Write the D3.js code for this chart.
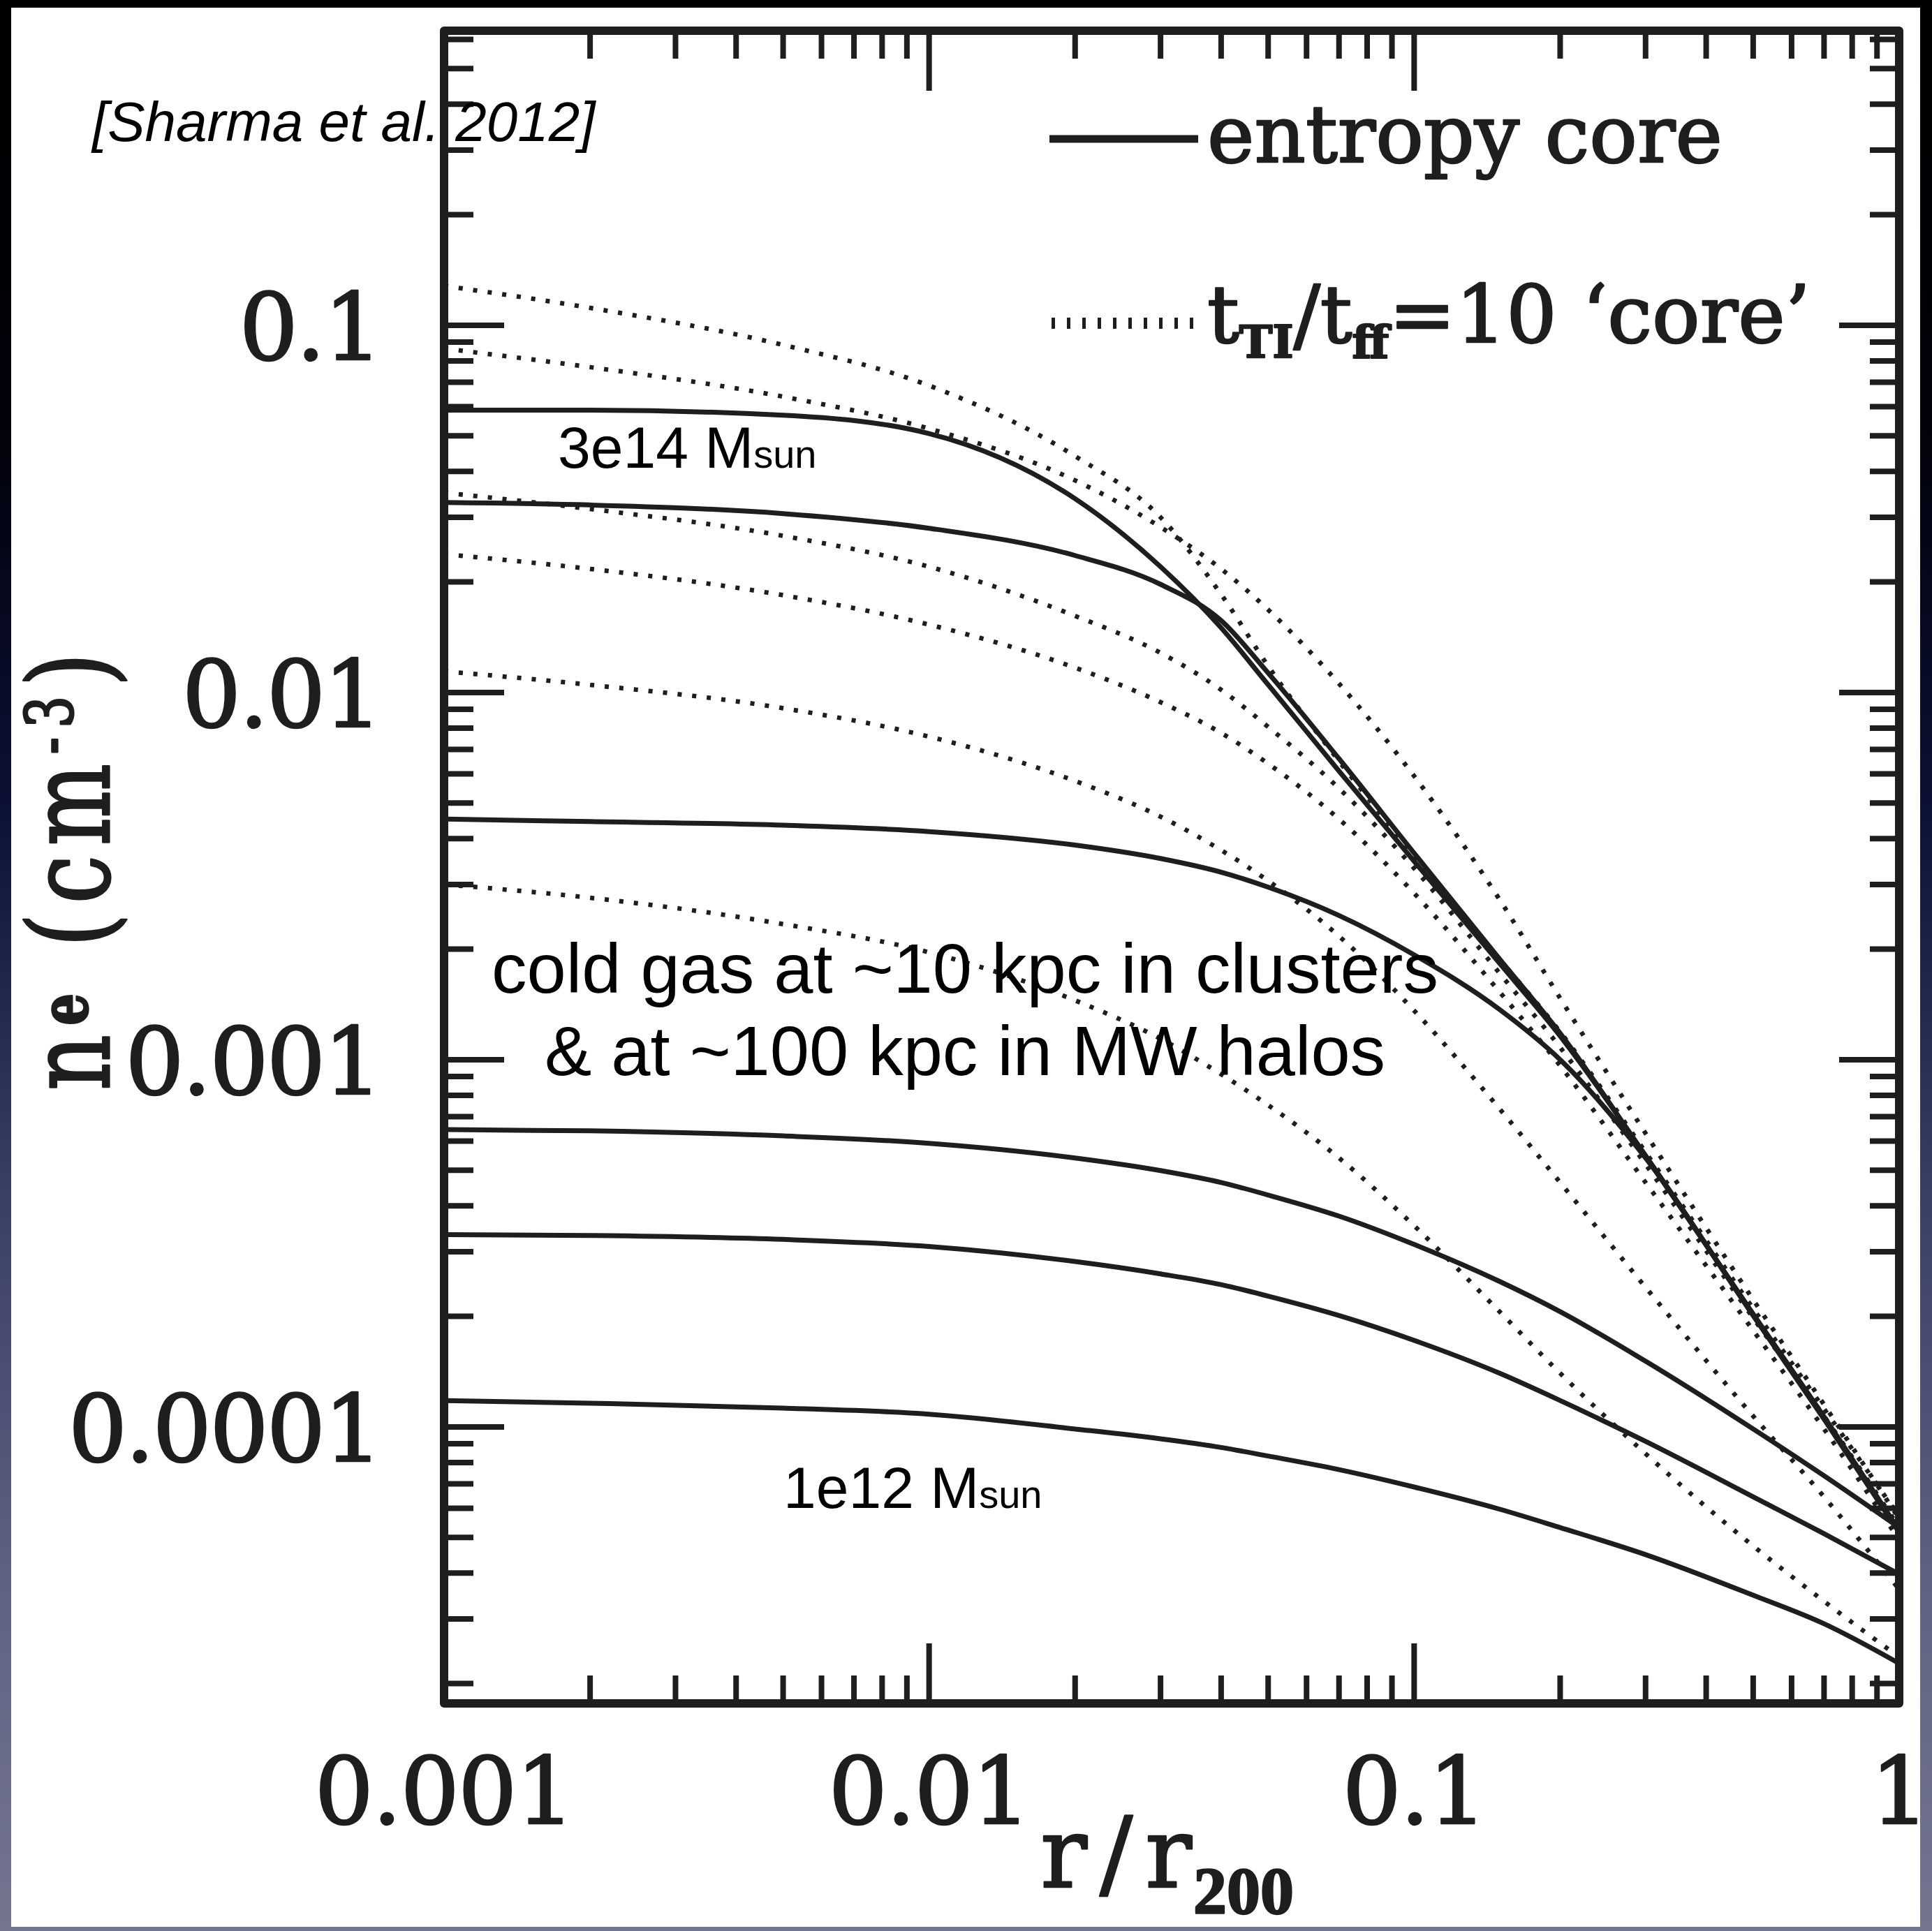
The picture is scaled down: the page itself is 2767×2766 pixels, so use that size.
<!DOCTYPE html>
<html><head><meta charset="utf-8">
<script src="https://cdn.jsdelivr.net/npm/d3@7"></script>
<style>html,body{margin:0;padding:0;background:#000;overflow:hidden}</style>
</head><body>
<svg id="c" width="2767" height="2766" xmlns="http://www.w3.org/2000/svg"></svg>
<script>
// ---------- data ----------
const rGrid = [0.001,0.002,0.005,0.01,0.02,0.03,0.04,0.05,0.07,0.1,0.15,0.2,0.3,0.5,0.7,1];

// entropy core (solid)
const coreA = [0.0587,0.0587,0.0569,0.0507,0.0337,0.0220,0.0150,0.0105,0.00611,0.00347,0.00183,0.00116,5.48e-4,2.02e-4,1.06e-4,5.20e-5];
const coreB = [0.0329,0.0324,0.0307,0.0280,0.0236,0.0197,0.0157,0.0113,0.00660,0.00365,0.00188,0.00118,5.46e-4,2.03e-4,1.065e-4,5.22e-5];
const coreC = [0.00452,0.00445,0.00435,0.00418,0.00384,0.00353,0.00324,0.00295,0.00247,0.00193,0.00137,0.00100,5.40e-4,2.01e-4,1.05e-4,5.16e-5];
const coreD = [6.45e-4,6.40e-4,6.20e-4,5.92e-4,5.40e-4,4.99e-4,4.63e-4,4.28e-4,3.75e-4,3.14e-4,2.49e-4,2.06e-4,1.51e-4,9.87e-5,7.36e-5,5.32e-5];
const coreE = [3.34e-4,3.32e-4,3.24e-4,3.10e-4,2.82e-4,2.61e-4,2.44e-4,2.27e-4,2.01e-4,1.72e-4,1.40e-4,1.18e-4,9.13e-5,6.45e-5,5.12e-5,3.97e-5];
const coreF = [1.18e-4,1.16e-4,1.125e-4,1.083e-4,9.87e-5,9.28e-5,8.79e-5,8.33e-5,7.65e-5,6.86e-5,5.97e-5,5.32e-5,4.49e-5,3.48e-5,2.91e-5,2.27e-5];

// t_TI/t_ff = 10 'core' (dotted)
const tiA = [0.128,0.1115,0.0884,0.0685,0.0440,0.0300,0.0185,0.0118,0.00650,0.00360,0.00188,0.00119,5.60e-4,2.10e-4,1.12e-4,5.70e-5];
const tiB = [0.0864,0.0769,0.0639,0.0523,0.0378,0.0282,0.0217,0.0168,0.01057,0.00592,0.00273,0.00147,6.30e-4,2.22e-4,1.15e-4,5.62e-5];
const tiC = [0.0350,0.0316,0.0267,0.0220,0.01616,0.01282,0.01017,0.00806,0.00548,0.00332,0.00172,0.00108,5.19e-4,1.98e-4,1.07e-4,5.32e-5];
const tiD = [0.0238,0.0217,0.0184,0.0153,0.01168,0.00941,0.00776,0.00640,0.00452,0.00284,0.00153,9.63e-4,4.63e-4,1.83e-4,9.87e-5,4.92e-5];
const tiE = [0.01142,0.01049,0.00906,0.00758,0.00574,0.00459,0.00372,0.00307,0.00217,0.00136,7.35e-4,4.63e-4,2.40e-4,1.07e-4,6.45e-5,3.61e-5];
const tiF = [0.00300,0.00276,0.00234,0.00196,0.00145,0.00114,9.13e-4,7.52e-4,5.40e-4,3.53e-4,2.06e-4,1.40e-4,8.45e-5,4.74e-5,3.35e-5,2.36e-5];

const solidSeries = [coreA, coreB, coreC, coreD, coreE, coreF];
const dottedSeries = [tiA, tiB, tiC, tiD, tiE, tiF];

const xDomain = [0.001, 1];
const yDomain = [1.766e-5, 0.634];
const xTickLabels = ["0.001","0.01","0.1","1"];
const yTickLabels = ["0.0001","0.001","0.01","0.1"];

// ---------- drawing ----------
const W = 2767, H = 2766;
const svg = d3.select("#c");
const defs = svg.append("defs");
const grad = defs.append("linearGradient").attr("id","bg").attr("x1",0).attr("y1",0).attr("x2",0).attr("y2",1);
[[0,"#000000"],[0.22,"#01020a"],[0.42,"#0c1136"],[0.62,"#3a3f66"],[0.82,"#5f6283"],[1,"#74768f"]]
  .forEach(([o,c])=>grad.append("stop").attr("offset",o).attr("stop-color",c));
svg.append("rect").attr("width",W).attr("height",H).attr("fill","url(#bg)");
svg.append("rect").attr("x",16).attr("y",11).attr("width",2750-16).attr("height",2760-11).attr("fill","#ffffff");

const L = 636, R = 2720, T = 44, B = 2440;
const x = d3.scaleLog().domain(xDomain).range([L, R]);
const y = d3.scaleLog().domain(yDomain).range([B, T]);

defs.append("clipPath").attr("id","plot").append("rect").attr("x",L).attr("y",T).attr("width",R-L).attr("height",B-T);

const ink = "#1e1e1e";
const isMajor = v => Math.abs(Math.log10(v) - Math.round(Math.log10(v))) < 1e-6;

const tk = svg.append("g").attr("stroke",ink).attr("stroke-width",8);
x.ticks().forEach(v=>{
  const len = isMajor(v) ? 86 : 40;
  const px = x(v);
  if (px <= L+2 || px >= R-2) return;
  tk.append("line").attr("x1",px).attr("x2",px).attr("y1",B).attr("y2",B-len);
  tk.append("line").attr("x1",px).attr("x2",px).attr("y1",T).attr("y2",T+len);
});
y.ticks().forEach(v=>{
  const len = isMajor(v) ? 86 : 42;
  const py = y(v);
  if (py <= T+2 || py >= B-2) return;
  tk.append("line").attr("x1",L).attr("x2",L+len).attr("y1",py).attr("y2",py);
  tk.append("line").attr("x1",R).attr("x2",R-len).attr("y1",py).attr("y2",py);
});

// curves
const line = d3.line().x((d,i)=>x(rGrid[i])).y(d=>y(d)).curve(d3.curveMonotoneX);
const cg = svg.append("g").attr("clip-path","url(#plot)").attr("fill","none");
dottedSeries.forEach(s=>{
  cg.append("path").attr("d",line(s)).attr("stroke",ink).attr("stroke-width",6.5)
    .attr("stroke-dasharray","6 15");
});
solidSeries.forEach(s=>{
  cg.append("path").attr("d",line(s)).attr("stroke",ink).attr("stroke-width",7);
});

// frame
svg.append("rect").attr("x",L).attr("y",T).attr("width",R-L).attr("height",B-T)
  .attr("fill","none").attr("stroke",ink).attr("stroke-width",12).attr("stroke-linejoin","round");

// tick labels (SM-like serif, heavy)
const serif = "'DejaVu Serif', serif";
const heavy = sel => sel.attr("fill",ink).attr("stroke",ink).attr("stroke-width",2.5).attr("stroke-linejoin","round");
const xMaj = x.ticks().filter(isMajor);
svg.append("g").call(heavy).selectAll("text").data(xMaj).join("text")
  .attr("x",d=>x(d)).attr("y",2612).attr("text-anchor","middle")
  .attr("font-family",serif).attr("font-size",133).attr("letter-spacing",-2)
  .text((d,i)=>xTickLabels[i]);
const yMaj = y.ticks().filter(isMajor);
svg.append("g").call(heavy).selectAll("text").data(yMaj).join("text")
  .attr("x",545).attr("y",d=>y(d)+49).attr("text-anchor","end")
  .attr("font-family",serif).attr("font-size",133).attr("letter-spacing",-3)
  .text((d,i)=>yTickLabels[i]);

// axis titles
const xt = svg.append("text").attr("x",1490).attr("y",2703).attr("font-family",serif)
  .attr("font-size",140).call(heavy);
xt.append("tspan").attr("letter-spacing",18).text("r/r");
xt.append("tspan").attr("dx",-16).attr("dy",38).attr("font-size",96).attr("font-weight","bold")
  .attr("font-family","'Liberation Serif', serif").text("200");

const yt = svg.append("text").attr("transform","translate(156,1562) scale(1.3,1) rotate(-90)")
  .attr("font-family",serif).attr("font-size",124).call(heavy)
  .attr("textLength",627).attr("lengthAdjust","spacing");
yt.append("tspan").text("n");
yt.append("tspan").attr("dy",-24).attr("font-size",72).attr("font-weight","bold").text("e");
yt.append("tspan").attr("dy",24).text(" (cm");
yt.append("tspan").attr("dy",-40).attr("font-size",72).text("-3");
yt.append("tspan").attr("dy",40).text(")");

// legend
svg.append("line").attr("x1",1503).attr("x2",1716).attr("y1",199).attr("y2",199)
  .attr("stroke",ink).attr("stroke-width",11);
svg.append("text").attr("x",1729).attr("y",232).attr("font-family",serif).attr("font-size",114)
  .call(heavy).text("entropy core");
svg.append("line").attr("x1",1506).attr("x2",1716).attr("y1",463).attr("y2",463)
  .attr("stroke",ink).attr("stroke-width",16).attr("stroke-dasharray","5 17");
const lg = svg.append("text").attr("x",1729).attr("y",490).attr("font-family",serif).attr("font-size",114).call(heavy);
lg.append("tspan").text("t");
lg.append("tspan").attr("dy",22).attr("font-size",64).attr("font-weight","bold").text("TI");
lg.append("tspan").attr("dy",-22).text("/t");
lg.append("tspan").attr("dy",22).attr("font-size",64).attr("font-weight","bold").text("ff");
lg.append("tspan").attr("dy",-22).text("=10 \u2018core\u2019");

// slide annotations
const sans = "'Liberation Sans', Arial, Helvetica, sans-serif";
svg.append("text").attr("x",132).attr("y",202).attr("font-family",sans).attr("font-style","italic")
  .attr("font-size",80).attr("fill","#000").text("[Sharma et al. 2012]");
const a1 = svg.append("text").attr("x",799).attr("y",670).attr("font-family",sans).attr("font-size",84).attr("fill","#000");
a1.append("tspan").text("3e14 M");
a1.append("tspan").attr("font-size",56).text("sun");
const a2 = svg.append("text").attr("x",1122).attr("y",2160).attr("font-family",sans).attr("font-size",84).attr("fill","#000");
a2.append("tspan").text("1e12 M");
a2.append("tspan").attr("font-size",56).text("sun");
svg.append("text").attr("x",1382).attr("y",1422).attr("text-anchor","middle").attr("font-family",sans)
  .attr("font-size",101).attr("fill","#000").text("cold gas at ~10 kpc in clusters");
svg.append("text").attr("x",1382).attr("y",1540).attr("text-anchor","middle").attr("font-family",sans)
  .attr("font-size",101).attr("fill","#000").text("& at ~100 kpc in MW halos");
</script>
</body></html>
